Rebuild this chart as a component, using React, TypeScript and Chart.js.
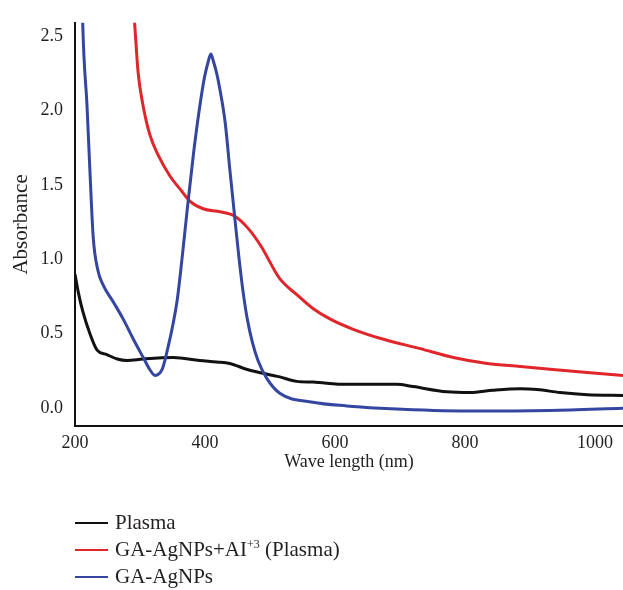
import React, { useEffect, useRef } from "react";
import { Chart, registerables } from "chart.js";

Chart.register(...registerables);

// ---- Data ----
const SERIES_NAMES = ["Plasma", "GA-AgNPs+AI+3 (Plasma)", "GA-AgNPs"];
const SERIES_COLORS = ["#111111", "#e0262b", "#3446a0"];

const plasmaWavelength = [200, 205, 212, 223, 234, 249, 265, 280, 305, 351, 392, 418, 438, 465, 515, 541, 566, 618, 695, 720, 772, 808, 843, 885, 911, 946, 988, 1043];
const plasmaAbsorbance = [0.90, 0.78, 0.65, 0.50, 0.39, 0.36, 0.33, 0.32, 0.33, 0.34, 0.32, 0.31, 0.30, 0.26, 0.21, 0.18, 0.175, 0.16, 0.16, 0.145, 0.11, 0.105, 0.12, 0.13, 0.125, 0.105, 0.09, 0.085];

const alWavelength = [289, 292, 297, 304, 315, 328, 346, 362, 377, 397, 423, 446, 466, 486, 515, 542, 566, 592, 628, 669, 731, 782, 834, 885, 935, 988, 1043];
const alAbsorbance = [2.75, 2.57, 2.26, 2.05, 1.84, 1.70, 1.56, 1.47, 1.39, 1.34, 1.32, 1.29, 1.21, 1.09, 0.87, 0.76, 0.67, 0.60, 0.53, 0.47, 0.40, 0.34, 0.30, 0.28, 0.26, 0.24, 0.22];

const npWavelength = [211, 212, 218.5, 223, 228, 235, 243, 258, 274, 289, 305, 315, 323, 334, 341, 357, 365, 373, 382, 391, 399, 405, 409, 413, 418, 423, 431, 438.5, 446, 452, 458, 465, 473, 481.5, 495, 515, 566, 618, 669, 720, 823, 931, 1043];
const npAbsorbance = [2.80, 2.57, 2.03, 1.59, 1.15, 0.93, 0.83, 0.72, 0.60, 0.47, 0.34, 0.26, 0.22, 0.26, 0.37, 0.72, 1.02, 1.35, 1.70, 2.00, 2.22, 2.33, 2.38, 2.33, 2.25, 2.14, 1.92, 1.59, 1.27, 1.02, 0.80, 0.60, 0.44, 0.32, 0.20, 0.10, 0.04, 0.015, 0.0, -0.01, -0.02, -0.015, 0.0];

const X_TICKS = [200, 400, 600, 800, 1000];
const Y_TICKS = [0, 0.5, 1.0, 1.5, 2.0, 2.5];
const X_MIN = 200;
const X_MAX = 1043;
const Y_MIN = -0.12;
const Y_MAX = 2.59;

const X_TITLE = "Wave length (nm)";
const Y_TITLE = "Absorbance";

const FONT = "'Liberation Serif', 'Times New Roman', serif";
const TEXT_COLOR = "#231f20";

const toPoints = (xs: number[], ys: number[]) => xs.map((x, i) => ({ x, y: ys[i] }));

function LegendLabel({ name }: { name: string }) {
  if (name.includes("+3")) {
    const parts = name.split("+3");
    return (
      <span>
        {parts[0]}
        <sup style={{ fontSize: "12px", verticalAlign: "8px", lineHeight: 0 }}>+3</sup>
        {parts[1]}
      </span>
    );
  }
  return <span>{name}</span>;
}

export default function App() {
  const canvasRef = useRef<HTMLCanvasElement | null>(null);

  useEffect(() => {
    const canvas = canvasRef.current;
    if (!canvas) return;
    const seriesData = [
      toPoints(plasmaWavelength, plasmaAbsorbance),
      toPoints(alWavelength, alAbsorbance),
      toPoints(npWavelength, npAbsorbance),
    ];
    const drawOrder = [2, 1, 0];
    const chart = new Chart(canvas, {
      type: "line",
      data: {
        datasets: seriesData.map((d, i) => ({
          label: SERIES_NAMES[i],
          data: d,
          borderColor: SERIES_COLORS[i],
          backgroundColor: SERIES_COLORS[i],
          borderWidth: 3,
          pointRadius: 0,
          cubicInterpolationMode: "monotone" as const,
          fill: false,
          clip: 0,
          order: drawOrder[i],
        })),
      },
      options: {
        animation: false,
        responsive: false,
        maintainAspectRatio: false,
        layout: { padding: { top: 17, right: 0, bottom: 114, left: 0 } },
        plugins: {
          legend: { display: false },
          tooltip: { enabled: false },
        },
        scales: {
          x: {
            type: "linear",
            min: X_MIN,
            max: X_MAX,
            afterBuildTicks: (scale: any) => {
              scale.ticks = X_TICKS.map((v) => ({ value: v }));
            },
            afterFit: (scale: any) => {
              scale.height = 50;
            },
            ticks: {
              font: { family: FONT, size: 18 },
              color: TEXT_COLOR,
              padding: 6,
              maxRotation: 0,
              callback: (v: any) => String(v),
            },
            grid: { display: false, drawTicks: false },
            border: { display: true, color: "#111111", width: 2 },
            title: {
              display: true,
              text: X_TITLE,
              font: { family: FONT, size: 18 },
              color: TEXT_COLOR,
              padding: { top: 0, bottom: 3 },
            },
          },
          y: {
            type: "linear",
            min: Y_MIN,
            max: Y_MAX,
            afterBuildTicks: (scale: any) => {
              scale.ticks = Y_TICKS.map((v) => ({ value: v }));
            },
            afterFit: (scale: any) => {
              scale.width = 75;
            },
            ticks: {
              font: { family: FONT, size: 18 },
              color: TEXT_COLOR,
              padding: 12,
              callback: (v: any) => Number(v).toFixed(1),
            },
            grid: { display: false, drawTicks: false },
            border: { display: true, color: "#111111", width: 2 },
            title: {
              display: true,
              text: Y_TITLE,
              font: { family: FONT, size: 21 },
              color: TEXT_COLOR,
              padding: { top: 8.5, bottom: 0 },
            },
          },
        },
      },
    });
    return () => chart.destroy();
  }, []);

  return (
    <div style={{ position: "absolute", left: 0, top: 0, width: 623, height: 590, background: "#fff" }}>
      <canvas ref={canvasRef} width={623} height={590} style={{ display: "block", width: 623, height: 590 }} />
      <div style={{ position: "absolute", left: 75, top: 508.7, fontFamily: FONT, fontSize: 21, color: TEXT_COLOR }}>
        {SERIES_NAMES.map((name, i) => (
          <div key={name} style={{ position: "relative", height: 27, lineHeight: "27px", whiteSpace: "nowrap" }}>
            <div style={{ position: "absolute", left: 0, top: 13, width: 33, height: 2, background: SERIES_COLORS[i] }} />
            <div style={{ position: "absolute", left: 40, top: 0 }}>
              <LegendLabel name={name} />
            </div>
          </div>
        ))}
      </div>
    </div>
  );
}
